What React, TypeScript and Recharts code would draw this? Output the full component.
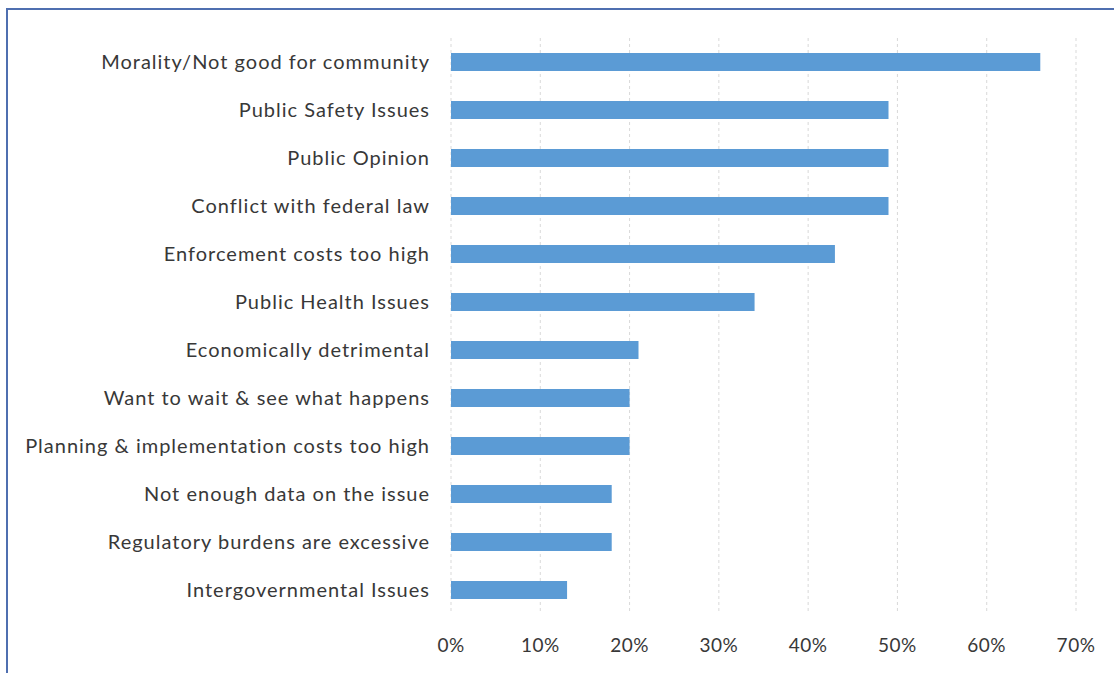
import * as React from 'react';
import { BarChart, Bar, XAxis, YAxis, CartesianGrid } from 'recharts';

const categories = [
  'Morality/Not good for community',
  'Public Safety Issues',
  'Public Opinion',
  'Conflict with federal law',
  'Enforcement costs too high',
  'Public Health Issues',
  'Economically detrimental',
  'Want to wait & see what happens',
  'Planning & implementation costs too high',
  'Not enough data on the issue',
  'Regulatory burdens are excessive',
  'Intergovernmental Issues',
];
const shares = [0.66, 0.49, 0.49, 0.49, 0.43, 0.34, 0.21, 0.2, 0.2, 0.18, 0.18, 0.13];
const xTicks = [0, 0.1, 0.2, 0.3, 0.4, 0.5, 0.6, 0.7];

const data = categories.map((name, i) => ({ name, value: shares[i] }));

const font = 'Lato, "Open Sans", sans-serif';

export default function App() {
  return (
    <div
      style={{
        position: 'absolute',
        left: 0,
        top: 0,
        width: 1114,
        height: 673,
        background: '#fff',
        overflow: 'hidden',
      }}
    >
      <div
        style={{
          position: 'absolute',
          left: 6,
          top: 8,
          right: 0,
          bottom: 0,
          borderTop: '2px solid #4f6fb0',
          borderLeft: '2px solid #4f6fb0',
        }}
      />
      <div style={{ position: 'absolute', left: 0, top: 0 }}>
        <BarChart
          width={1114}
          height={673}
          data={data}
          layout="vertical"
          margin={{ top: 38, right: 38, bottom: 29, left: 0 }}
        >
          <CartesianGrid horizontal={false} stroke="#d9d9d9" strokeDasharray="3 3" />
          <XAxis
            type="number"
            domain={[0, 0.7]}
            ticks={xTicks}
            tickFormatter={(v: number) => `${Math.round(v * 100)}%`}
            axisLine={false}
            tickLine={false}
            tickMargin={19}
            tick={{ fontFamily: font, fontSize: 19, fill: '#383838', style: { letterSpacing: 0.5 } }}
          />
          <YAxis
            type="category"
            dataKey="name"
            width={451}
            axisLine={false}
            tickLine={false}
            tickMargin={15}
            interval={0}
            tick={{ fontFamily: font, fontSize: 20, fill: '#383838', style: { letterSpacing: 1 } }}
          />
          <Bar dataKey="value" fill="#5b9bd5" barSize={18} isAnimationActive={false} />
        </BarChart>
      </div>
    </div>
  );
}
